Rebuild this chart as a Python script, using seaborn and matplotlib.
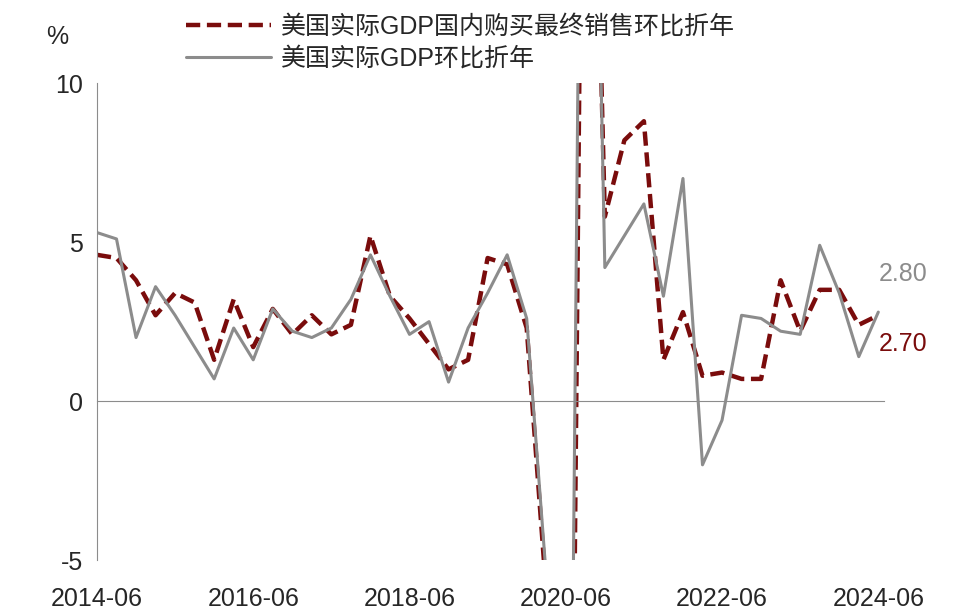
import pandas as pd
import numpy as np
import matplotlib.pyplot as plt
import seaborn as sns

sns.set_style("white")
plt.rcParams['font.family'] = ['Liberation Sans', 'Noto Sans CJK SC', 'DejaVu Sans']
plt.rcParams['axes.unicode_minus'] = False

quarters = pd.period_range("2014Q2", "2024Q2", freq="Q")
gdp = [5.3, 5.1, 2.0, 3.6, 2.7, 1.7, 0.7, 2.3, 1.3, 2.9, 2.2, 2.0, 2.3, 3.2, 4.6, 3.3,
       2.1, 2.5, 0.6, 2.3, 3.4, 4.6, 2.6, -5.5, -31.0, 35.0, 4.2, 5.2, 6.2, 3.3, 7.0,
       -2.0, -0.6, 2.7, 2.6, 2.2, 2.1, 4.9, 3.4, 1.4, 2.8]
final_sales = [4.6, 4.5, 3.8, 2.7, 3.4, 3.1, 1.3, 3.2, 1.7, 2.9, 2.1, 2.7, 2.1, 2.4, 5.2, 3.3,
               2.6, 1.8, 1.0, 1.3, 4.5, 4.3, 2.3, -6.0, -35.0, 30.0, 5.8, 8.2, 8.8, 1.3, 2.8,
               0.8, 0.9, 0.7, 0.7, 3.8, 2.2, 3.5, 3.5, 2.4, 2.7]
tick_pos = [0, 8, 16, 24, 32, 40]
tick_labels = ["2014-06", "2016-06", "2018-06", "2020-06", "2022-06", "2024-06"]

red = "#7A0C0C"
grey = "#8C8C8C"

df = pd.DataFrame({"i": np.arange(len(quarters)), "gdp": gdp, "fs": final_sales})

fig = plt.figure(figsize=(9.6, 6.15), dpi=100)
ax = fig.add_axes([0.101, 0.089, 0.82, 0.776])
sns.lineplot(data=df, x="i", y="fs", ax=ax, color=red, lw=3.2, ls=(0, (3.2, 1.5)),
             label="美国实际GDP国内购买最终销售环比折年")
sns.lineplot(data=df, x="i", y="gdp", ax=ax, color=grey, lw=2.2,
             label="美国实际GDP环比折年")

ax.set_ylim(-5, 10)
ax.set_xlim(0, 40.3)
ax.set_yticks([-5, 0, 5, 10])
ax.set_yticklabels(["-5", "0", "5", "10"])
ax.set_xticks(tick_pos)
ax.set_xticklabels(tick_labels)
ax.set_xlabel("")
ax.set_ylabel("")
for s in ["top", "right"]:
    ax.spines[s].set_visible(False)
ax.spines["bottom"].set_position(("data", 0))
ax.spines["bottom"].set_color(grey)
ax.spines["left"].set_color(grey)
ax.tick_params(axis="x", direction="out", length=6, color=grey, pad=128, labelsize=18)
ax.tick_params(axis="y", length=0, pad=10, labelsize=18)

ax.text(40.0, 4.0, "2.80", color=grey, fontsize=18, ha="left", va="center")
ax.text(40.0, 1.8, "2.70", color=red, fontsize=18, ha="left", va="center")
fig.text(0.06, 0.94, "%", fontsize=18, ha="center", va="center")

ax.legend(loc="upper left", bbox_to_anchor=(0.1, 1.165), frameon=False, fontsize=18,
          handlelength=3.4, labelspacing=0.35, borderaxespad=0, handletextpad=0.4)

fig.savefig("out.png", dpi=100)
